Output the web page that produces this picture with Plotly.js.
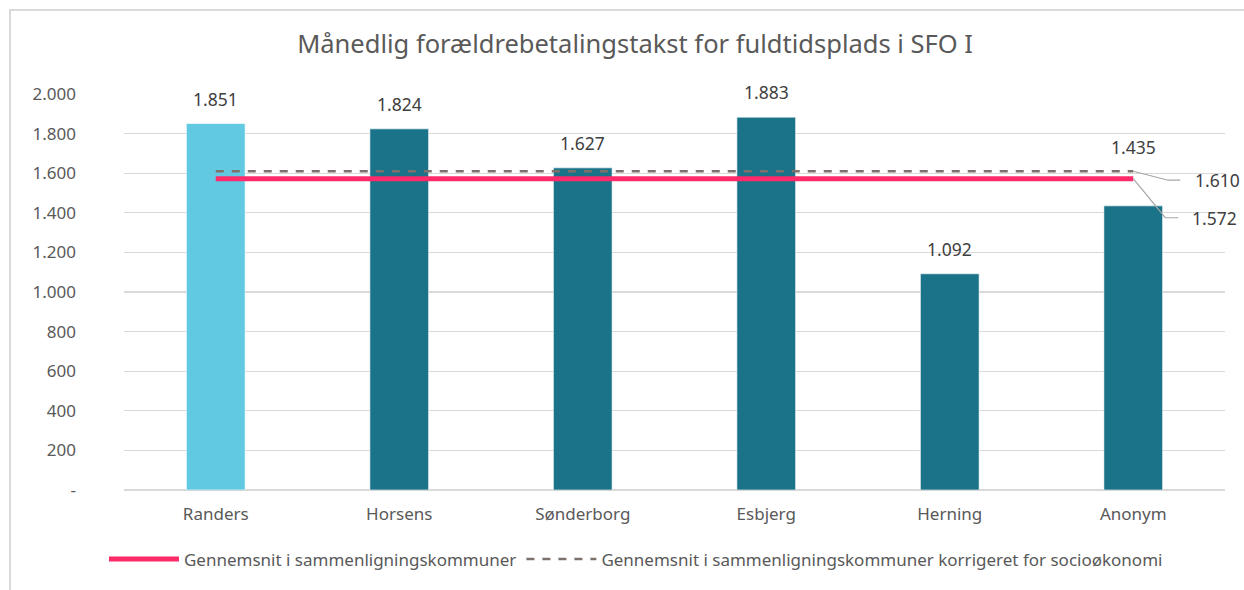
<!DOCTYPE html>
<html>
<head>
<meta charset="utf-8">
<script src="https://cdn.plot.ly/plotly-3.0.1.min.js"></script>
<style>
  html, body { margin: 0; padding: 0; background: #ffffff; }
  #wrap { position: relative; width: 1244px; height: 590px; overflow: hidden; }
  #frame { position: absolute; left: 9px; top: 9px; width: 1300px; height: 700px; border: 2px solid #d9d9d9; box-sizing: border-box; }
  #chart { position: absolute; left: 0; top: 0; width: 1244px; height: 590px; }
</style>
</head>
<body>
<div id="wrap">
  <div id="frame"></div>
  <div id="chart"></div>
</div>
<script>
// ---- data ----
const categories = ["Randers", "Horsens", "Sønderborg", "Esbjerg", "Herning", "Anonym"];
const values = [1851, 1824, 1627, 1883, 1092, 1435];
const barColors = ["#62c9e3", "#1a7388", "#1a7388", "#1a7388", "#1a7388", "#1a7388"];
const avgValue = 1572;        // Gennemsnit i sammenligningskommuner
const avgCorrectedValue = 1610; // korrigeret for socioøkonomi
const yTickValues = [0, 200, 400, 600, 800, 1000, 1200, 1400, 1600, 1800, 2000];
const seriesNames = ["Gennemsnit i sammenligningskommuner", "Gennemsnit i sammenligningskommuner korrigeret for socioøkonomi"];
const titleText = "Månedlig forældrebetalingstakst for fuldtidsplads i SFO I";

// ---- helpers ----
function fmt(v) {
  if (v === 0) return "-";
  return String(Math.round(v)).replace(/\B(?=(\d{3})+(?!\d))/g, ".");
}

const FONT = "Noto Sans, sans-serif";
const TXT = "#595959";
const LBL = "#404040";

const traces = [
  {
    type: "bar",
    x: categories,
    y: values,
    marker: { color: barColors, line: { color: "rgba(255,255,255,0.6)", width: 1 } },
    width: 0.32,
    showlegend: false,
    hoverinfo: "skip"
  },
  {
    type: "scatter",
    mode: "lines",
    x: categories,
    y: categories.map(() => avgValue),
    name: seriesNames[0],
    line: { color: "#ff2a6a", width: 5 },
    hoverinfo: "skip"
  },
  {
    type: "scatter",
    mode: "lines",
    x: categories,
    y: categories.map(() => avgCorrectedValue),
    name: seriesNames[1],
    line: { color: "#7d716b", width: 2.5, dash: "8px,8px" },
    hoverinfo: "skip"
  }
];

const labelShift = [11, 11, 11, 11, 11, 45];
const annotations = values.map((v, i) => ({
  x: categories[i], y: v, xref: "x", yref: "y",
  text: fmt(v), showarrow: false,
  yanchor: "bottom", yshift: labelShift[i],
  font: { family: FONT, size: 17.5, color: LBL }
}));

const lastIdx = categories.length - 1;
const lastCat = categories[lastIdx];
annotations.push(
  { x: lastCat, y: avgCorrectedValue, xref: "x", yref: "y", text: fmt(avgCorrectedValue), showarrow: false,
    xanchor: "left", yanchor: "middle", xshift: 60, yshift: -9,
    font: { family: FONT, size: 17.5, color: LBL } },
  { x: lastCat, y: avgValue, xref: "x", yref: "y", text: fmt(avgValue), showarrow: false,
    xanchor: "left", yanchor: "middle", xshift: 57, yshift: -39,
    font: { family: FONT, size: 17.5, color: LBL } }
);

const shapes = [
  { type: "path", xref: "x", yref: "y", xsizemode: "pixel", ysizemode: "pixel",
    xanchor: lastIdx, yanchor: avgCorrectedValue,
    path: "M0,0 L35,-9 L47,-9", line: { color: "#a6a6a6", width: 1.2 } },
  { type: "path", xref: "x", yref: "y", xsizemode: "pixel", ysizemode: "pixel",
    xanchor: lastIdx, yanchor: avgValue,
    path: "M0,0 L32,-39 L45,-39", line: { color: "#a6a6a6", width: 1.2 } }
];

const layout = {
  width: 1244, height: 590,
  paper_bgcolor: "rgba(0,0,0,0)",
  plot_bgcolor: "rgba(0,0,0,0)",
  margin: { l: 124, r: 19, t: 94, b: 98 },
  font: { family: FONT, size: 17, color: TXT },
  title: { text: titleText, x: 0.5105, xanchor: "center", y: 0.925, yanchor: "middle",
           font: { family: FONT, size: 25.5, color: TXT } },
  xaxis: { type: "category", range: [-0.5, categories.length - 0.5], autorange: false,
           showgrid: false, showline: false, zeroline: false,
           ticks: "", ticklabelstandoff: 12, tickfont: { family: FONT, size: 17, color: TXT },
           fixedrange: true, automargin: false },
  yaxis: { range: [0, 2000], autorange: false, tickvals: yTickValues, ticktext: yTickValues.map(fmt),
           showgrid: true, gridcolor: "#d9d9d9", gridwidth: 1.3, zeroline: true, zerolinecolor: "#d9d9d9", zerolinewidth: 1.3,
           showline: false, ticks: "", ticklabelstandoff: 47, tickfont: { family: FONT, size: 17, color: TXT },
           fixedrange: true, automargin: false },
  bargap: 0.68,
  showlegend: true,
  legend: { orientation: "h", x: 0.465, xanchor: "center", y: -0.13, yanchor: "top",
            itemwidth: 70, font: { family: FONT, size: 17, color: TXT }, traceorder: "normal" },
  annotations: annotations,
  shapes: shapes,
  hovermode: false
};

Plotly.newPlot("chart", traces, layout, { displayModeBar: false, staticPlot: true });
</script>
</body>
</html>
